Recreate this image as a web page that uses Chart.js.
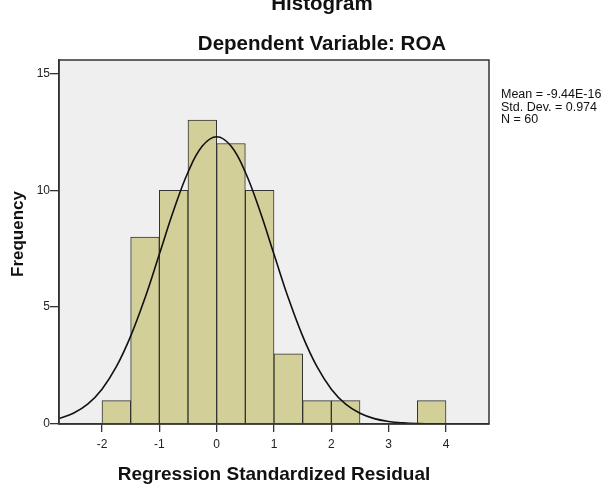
<!DOCTYPE html>
<html>
<head>
<meta charset="utf-8">
<script src="https://cdn.jsdelivr.net/npm/chart.js@4/dist/chart.umd.min.js"></script>
<style>
  html, body { margin: 0; padding: 0; background: #ffffff; }
  #wrap { position: relative; width: 609px; height: 498px; }
</style>
</head>
<body>
<div id="wrap"><canvas id="hist" width="609" height="498"></canvas></div>
<script>
// bin centres (width 0.5) and counts
const binCenters = [-1.75, -1.25, -0.75, -0.25, 0.25, 0.75, 1.25, 1.75, 2.25, 2.75, 3.25, 3.75];
const binCounts  = [1, 8, 10, 13, 12, 10, 3, 1, 1, 0, 0, 1];

// normal curve
const curveX = [-2.75, -2.5, -2.25, -2, -1.75, -1.5, -1.25, -1, -0.75, -0.5, -0.25, 0,
                0.25, 0.5, 0.75, 1, 1.25, 1.5, 1.75, 2, 2.25, 2.5, 2.75, 3, 3.25, 3.5, 3.75, 4, 4.5, 4.75];
const curveY = [0.23, 0.46, 0.85, 1.49, 2.45, 3.76, 5.39, 7.26, 9.14, 10.77, 11.89, 12.29,
                11.89, 10.77, 9.14, 7.26, 5.39, 3.76, 2.45, 1.49, 0.85, 0.46, 0.23, 0.11, 0.05, 0.02, 0.01, 0, 0, 0];

const xTicks = [-2, -1, 0, 1, 2, 3, 4];
const yTicks = [0, 5, 10, 15];

const titleLines = ['Histogram', 'Dependent Variable: ROA'];
const statsLines = ['Mean = -9.44E-16', 'Std. Dev. = 0.974', 'N = 60'];
const yTitle = 'Frequency';

const FONT = '"Liberation Sans", Arial, sans-serif';

// plot background, frame and the text blocks
const framePlugin = {
    id: 'frame',
    beforeDraw(chart) {
        const a = chart.chartArea;
        const c = chart.ctx;
        c.save();
        c.fillStyle = '#efefef';
        c.fillRect(a.left, a.top, a.right - a.left, a.bottom - a.top);
        c.restore();
    },
    afterDraw(chart) {
        const a = chart.chartArea;
        const c = chart.ctx;
        c.save();
        c.strokeStyle = '#333333';
        c.lineWidth = 1.5;
        c.strokeRect(a.left, a.top, a.right - a.left, a.bottom - a.top);

        c.fillStyle = '#111111';
        c.textAlign = 'center';
        c.textBaseline = 'alphabetic';
        c.font = 'bold 20.5px ' + FONT;
        c.fillText(titleLines[0], 322, 10);
        c.fillText(titleLines[1], 322, 50);

        // y axis title
        c.save();
        c.translate(18, 234);
        c.rotate(-Math.PI / 2);
        c.textBaseline = 'middle';
        c.font = 'bold 17px ' + FONT;
        c.fillText(yTitle, 0, 0);
        c.restore();

        c.textAlign = 'left';
        c.textBaseline = 'middle';
        c.font = '12.5px ' + FONT;
        statsLines.forEach((s, i) => c.fillText(s, 501, 95 + i * 12.2));
        c.restore();
    }
};

const histData = binCenters.map((x, i) => ({ x: x, y: binCounts[i] }));
const curveData = curveX.map((x, i) => ({ x: x, y: curveY[i] }));

new Chart(document.getElementById('hist').getContext('2d'), {
    type: 'bar',
    data: {
        datasets: [
            {
                type: 'line',
                data: curveData,
                borderColor: '#111111',
                borderWidth: 1.6,
                pointRadius: 0,
                tension: 0.4,
                fill: false,
                order: 0
            },
            {
                type: 'bar',
                data: histData,
                backgroundColor: '#d3cf98',
                borderColor: '#333333',
                borderWidth: 1,
                barPercentage: 1,
                categoryPercentage: 1,
                order: 1
            }
        ]
    },
    options: {
        responsive: false,
        animation: false,
        events: [],
        layout: { padding: { top: 60, right: 120, left: 0, bottom: 0 } },
        plugins: {
            legend: { display: false },
            tooltip: { enabled: false },
            title: { display: false }
        },
        scales: {
            x: {
                type: 'linear',
                min: -2.75,
                max: 4.75,
                offset: false,
                afterFit(scale) { scale.height = 74; },
                afterBuildTicks(scale) { scale.ticks = xTicks.map(v => ({ value: v })); },
                grid: { display: true, offset: false, drawOnChartArea: false, drawTicks: true, tickLength: 8, color: '#333333', lineWidth: 1.3 },
                border: { display: true, color: '#333333', width: 1.5 },
                ticks: { color: '#222222', font: { family: FONT, size: 12 }, padding: 5, maxRotation: 0 },
                title: {
                    display: true,
                    text: 'Regression Standardized Residual',
                    color: '#111111',
                    font: { family: FONT, size: 19, weight: 'bold' },
                    padding: { top: 12, bottom: 12 }
                }
            },
            y: {
                type: 'linear',
                min: 0,
                max: 15.57,
                afterFit(scale) { scale.width = 59; },
                afterBuildTicks(scale) { scale.ticks = yTicks.map(v => ({ value: v })); },
                grid: { display: true, drawOnChartArea: false, drawTicks: true, tickLength: 9, color: '#333333', lineWidth: 1.3 },
                border: { display: true, color: '#333333', width: 1.5 },
                ticks: { color: '#222222', font: { family: FONT, size: 12 }, padding: 0 },
                title: { display: false }
            }
        }
    },
    plugins: [framePlugin]
});
</script>
</body>
</html>
